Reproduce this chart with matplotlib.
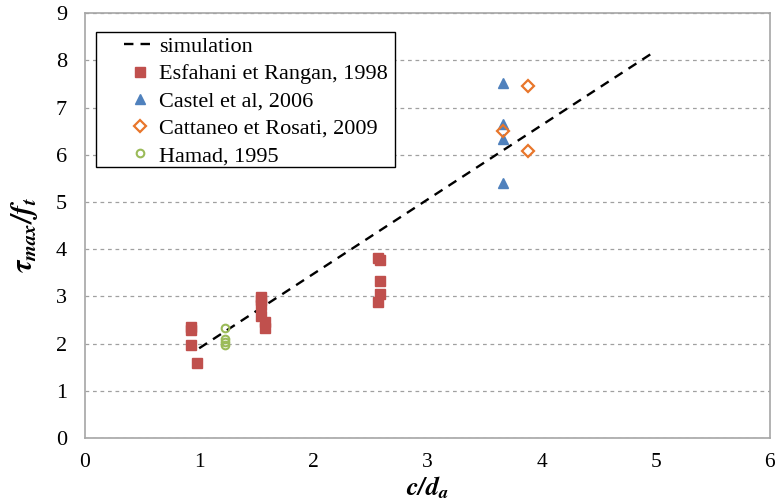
import matplotlib.pyplot as plt
from matplotlib.patches import Rectangle

plt.rcParams['font.family'] = ['Liberation Serif', 'DejaVu Serif']
plt.rcParams['mathtext.fontset'] = 'stix'

# simulation line
sim_x = [1.0, 5.0]
sim_y = [1.9, 8.2]

# Esfahani et Rangan, 1998
esf_x = [0.93, 0.93, 0.93, 0.98, 1.54, 1.54, 1.54, 1.54, 1.58, 1.58, 2.57, 2.58, 2.58, 2.58, 2.57]
esf_y = [2.36, 2.28, 1.97, 1.59, 2.99, 2.92, 2.82, 2.59, 2.45, 2.33, 3.82, 3.76, 3.33, 3.06, 2.87]

# Castel et al, 2006
cas_x = [3.66, 3.66, 3.66, 3.66]
cas_y = [7.52, 6.65, 6.33, 5.41]

# Cattaneo et Rosati, 2009
cat_x = [3.88, 3.66, 3.88]
cat_y = [7.45, 6.5, 6.07]

# Hamad, 1995
ham_x = [1.23, 1.23, 1.23, 1.23]
ham_y = [2.33, 2.1, 2.03, 1.97]

fig = plt.figure(figsize=(7.8, 5.04), dpi=100)
ax = fig.add_axes([0.109, 0.131, 0.878, 0.843])

ax.plot(sim_x, sim_y, '--', color='black', lw=1.7, dashes=(4, 3), label='simulation', zorder=3)
ax.plot(esf_x, esf_y, 's', color='#C0504D', ms=6.5, ls='none', label='Esfahani et Rangan, 1998', zorder=4)
ax.plot(cas_x, cas_y, '^', color='#4F81BD', ms=7, ls='none', label='Castel et al, 2006', zorder=4)
ax.plot(cat_x, cat_y, 'D', mfc='none', mec='#E8762B', mew=1.6, ms=6, ls='none',
        label='Cattaneo et Rosati, 2009', zorder=4)
ax.plot(ham_x, ham_y, 'o', mfc='none', mec='#9BBB59', mew=1.5, ms=5.5, ls='none',
        label='Hamad, 1995', zorder=4)

ax.set_xlim(0, 6)
ax.set_ylim(0, 9)
ax.set_xticks(range(0, 7))
ax.set_yticks(range(0, 10))
ax.grid(axis='y', color='#A0A0A0', ls=(0, (3, 3)), lw=0.9)
ax.set_axisbelow(True)

for s in ax.spines.values():
    s.set_color('#A6A6A6')
    s.set_linewidth(1.2)
ax.tick_params(axis='y', length=0, labelsize=16, pad=13)
ax.tick_params(axis='x', length=0, labelsize=15.5, pad=11)

ax.set_xlabel(r'$\mathbfit{c/d_a}$', fontsize=19)
ax.xaxis.set_label_coords(0.5, -0.086)
ax.set_ylabel(r'$\mathbfit{\tau_{max}/f_t}$', fontsize=21)
ax.yaxis.set_label_coords(-0.066, 0.477)

# legend box drawn separately so the handles sit indented like the original
ax.add_patch(Rectangle((0.016, 0.638), 0.437, 0.317, transform=ax.transAxes,
                       facecolor='white', edgecolor='black', lw=1.0, zorder=5))
leg = ax.legend(loc='upper left', bbox_to_anchor=(0.05, 0.955), fontsize=16, frameon=False,
                handlelength=1.45, handletextpad=0.15, labelspacing=0.3,
                borderpad=0.2, borderaxespad=0)
leg.set_zorder(6)

fig.savefig('out.png', dpi=100)
